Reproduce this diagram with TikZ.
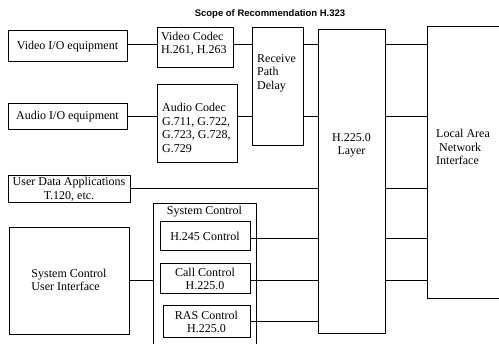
\documentclass[tikz,border=0pt]{standalone}
\usepackage{fontspec}
\setmainfont{Liberation Serif}
\newfontfamily\headfont{Liberation Sans}

\begin{document}
\begin{tikzpicture}[x=1pt,y=-1pt,
    font=\fontsize{12}{13.5}\selectfont,
    box/.style={draw, line width=1pt, inner sep=1pt, align=center},
    txt/.style={inner sep=0pt, align=left},
    link/.style={line width=1pt}]
  \useasboundingbox (0,0) rectangle (499,344);

  \node[font=\headfont\bfseries\fontsize{9.5}{11}\selectfont] (title) at (270,14) {Scope of Recommendation H.323};

  % levels of the connectors
  \coordinate (row1) at (0,45);
  \coordinate (row2) at (0,117);
  \coordinate (row3) at (0,189);
  \coordinate (row4) at (0,239);
  \coordinate (row5) at (0,281);
  \coordinate (row6) at (0,322);

  % terminal equipment
  \node[box, minimum width=119pt, minimum height=31pt] (vio) at (67.5,46.5) {Video I/O equipment};
  \node[box, minimum width=119pt, minimum height=26pt] (aio) at (67.5,117) {Audio I/O equipment};
  \node[box, minimum width=122pt, minimum height=27pt, inner sep=0pt] (udata) at (69,189.5) {User Data Applications\\T.120, etc.};
  \node[box, minimum width=120pt, minimum height=107pt] (scui) at (69,281.5) {\begin{tabular}{@{}l@{}}System Control\\User Interface\end{tabular}};

  % codecs and delay
  \node[box, minimum width=76pt, minimum height=40pt] (vcodec) at (195,48) {};
  \node[txt, anchor=west] (vcodec-t) at (161,44) {Video Codec\\H.261, H.263};
  \node[box, minimum width=80pt, minimum height=78pt] (acodec) at (197,124) {};
  \node[txt, anchor=west] (acodec-t) at (162,128) {Audio Codec\\G.711, G.722,\\G.723, G.728,\\G.729};
  \node[box, minimum width=51pt, minimum height=118pt] (rpd) at (277.5,87) {};
  \node[txt, anchor=west] (rpd-t) at (257,73) {Receive\\Path\\Delay};

  % system control
  \node[box, minimum width=103pt, minimum height=156pt] (sysctl) at (204.5,282) {};
  \node[txt] (sysctl-t) at (204.5,212) {System Control};
  \node[box, minimum width=90pt, minimum height=29pt] (h245) at (205,236.5) {H.245 Control};
  \node[box, minimum width=90pt, minimum height=30pt] (call) at (205,279) {Call Control\\H.225.0};
  \node[box, minimum width=87pt, minimum height=32pt] (ras) at (206.5,322) {RAS Control\\H.225.0};

  % layer and network
  \node[box, minimum width=67pt, minimum height=304pt] (h225) at (351.5,182) {};
  \node[txt, align=center] (h225-t) at (351.5,145.5) {H.225.0\\Layer};
  \node[box, minimum width=88pt, minimum height=272pt] (lan) at (471,163) {};
  \node[txt, anchor=west] (lan-t) at (436,147) {Local Area\\\ Network\\Interface};

  % connectors
  \draw[link] (vio.east |- row1) -- (vcodec.west |- row1);
  \draw[link] (vcodec.east |- row1) -- (rpd.west |- row1);
  \draw[link] (rpd.east |- row1) -- (h225.west |- row1);
  \draw[link] (aio.east |- row2) -- (acodec.west |- row2);
  \draw[link] (acodec.east |- row2) -- (rpd.west |- row2);
  \draw[link] (rpd.east |- row2) -- (h225.west |- row2);
  \draw[link] (udata.east |- row3) -- (h225.west |- row3);
  \draw[link] (scui.east |- row5) -- (sysctl.west |- row5);
  \draw[link] (h245.east |- row4) -- (h225.west |- row4);
  \draw[link] (call.east |- row5) -- (h225.west |- row5);
  \draw[link] (ras.east |- row6) -- (h225.west |- row6);
  \foreach \r in {row1,row2,row3,row4,row5}
    \draw[link] (h225.east |- \r) -- (lan.west |- \r);
\end{tikzpicture}
\end{document}
